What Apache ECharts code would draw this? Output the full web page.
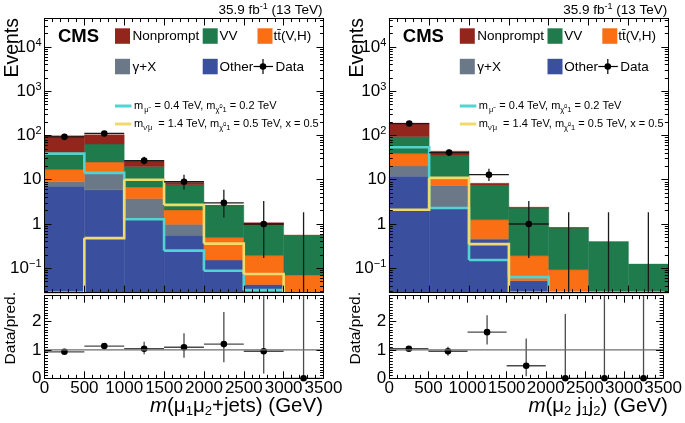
<!DOCTYPE html>
<html><head><meta charset="utf-8">
<script src="https://cdn.jsdelivr.net/npm/echarts@6/dist/echarts.min.js"></script>
<style>html,body{margin:0;padding:0;background:#fff}#c{width:685px;height:423px}</style>
</head><body><div id="c"></div>
<script>
// ---------------- data ----------------
const edges = [0, 500, 1000, 1500, 2000, 2500, 3000, 3500];
const yMajorTicks = [0.1, 1, 10, 100, 1000, 10000];
const ratioMajorTicks = [0, 1, 2];

// left panel: m(mu1 mu2 + jets)  (per-process contributions, stacked)
const otherL    = [7.1, 5.9, 1.28, 0.56, 0.153, 0.043, 0];
const gammaXL   = [1.9, 8.1, 2.5, 0.42, 0, 0, 0];
const ttVL      = [8.0, 11, 3.0, 1.1, 0.34, 0.15, 0.07];
const vvL       = [23, 39, 13.2, 5.6, 2.1, 0.73, 0.48];
const nonpromptL= [58, 40, 7, 1.0, 0.05, 0.15, 0.01];
const sigCyanL  = [39, 14.3, 1.28, 0.25, 0.088, 0.032, null];
const sigYellowL= [0.001, 0.48, 10, 2.7, 0.36, 0.074, null];
const dataL     = [93, 111, 27, 9, 3, 1, 0];
const dataLoL   = [84, 101, 22, 6.0, 1.4, 0.17, 0];
const dataHiL   = [103, 122, 33, 13, 5.9, 3.3, 1.84];
const ratioL    = [0.93, 1.13, 1.04, 1.09, 1.2, 0.95, 0];
const ratioLoL  = [0.88, 1.05, 0.84, 0.72, 0.56, 0.17, 0];
const ratioHiL  = [0.99, 1.22, 1.28, 1.58, 2.33, 3.3, 3.3];

// right panel: m(mu2 j1 j2)
const otherR    = [12, 2.3, 0.45, 0.052, 0, 0, 0];
const gammaXR   = [8.5, 5.1, 0.02, 0, 0, 0, 0];
const ttVR      = [18.5, 3.1, 0.78, 0.14, 0.093, 0, 0];
const vvR       = [56, 24.5, 6.15, 2.1, 0.72, 0.4, 0.124];
const nonpromptR= [95, 9, 0.9, 0.1, 0.02, 0, 0];
const sigCyanR  = [54, 2.3, 0.153, 0.063, null, null, null];
const sigYellowR= [2.1, 11, 0.35, 0.001, 0.001, 0.001, 0.001];
const dataR     = [186, 41, 13, 1, 0, 0, 0];
const dataLoR   = [172, 35, 9.4, 0.17, 0, 0, 0];
const dataHiR   = [200, 48, 17.8, 3.3, 1.84, 1.84, 1.84];
const ratioR    = [1.04, 0.95, 1.62, 0.44, 0, 0, 0];
const ratioLoR  = [0.98, 0.79, 1.19, 0.07, 0, 0, 0];
const ratioHiR  = [1.10, 1.11, 2.21, 1.4, 2.26, 3.3, 3.3];

// ---------------- style ----------------
const FONT = '"Liberation Sans", Arial, Helvetica, sans-serif';
const C = {np:'#93261c', vv:'#1f7a4c', ttv:'#fa6e14', gx:'#6a7888', other:'#3a4f9e', cyan:'#52d2d0', yellow:'#f0da6e'};
const Y_MIN = 0.028, Y_MAX = 44000, R_MAX = 2.9;
const GW = 279, TOP_T = 18.5, TOP_H = 274.2, RAT_T = 295.7, RAT_H = 82.6;

const yMinorTicks = [];
for (let e = -2; e <= 4; e++) for (let k = 2; k <= 9; k++) {
  const v = k * Math.pow(10, e);
  if (v > Y_MIN && v < Y_MAX) yMinorTicks.push(v);
}
const ratioMinorTicks = [];
for (let i = 1; i < 29; i++) if (i % 10) ratioMinorTicks.push(i / 10);

const panels = [
  {left:44.5, stack:[otherL, gammaXL, ttVL, vvL, nonpromptL], cyan:sigCyanL, yellow:sigYellowL,
   data:dataL, dlo:dataLoL, dhi:dataHiL, ratio:ratioL, rlo:ratioLoL, rhi:ratioHiL,
   title:'{i|m}{n|(μ}{s|1}{n|μ}{s|2}{n|+jets) (GeV)}'},
  {left:389.3, stack:[otherR, gammaXR, ttVR, vvR, nonpromptR], cyan:sigCyanR, yellow:sigYellowR,
   data:dataR, dlo:dataLoR, dhi:dataHiR, ratio:ratioR, rlo:ratioLoR, rhi:ratioHiR,
   title:'{i|m}{n|(μ}{s|2}{n| j}{s|1}{n|j}{s|2}{n|) (GeV)}'}
];
const stackColors = [C.other, C.gx, C.ttv, C.vv, C.np];

function rectOf(cs){ return {x:cs.x, y:cs.y, width:cs.width, height:cs.height}; }

function logLabel(v){
  const e = Math.round(Math.log10(v));
  if (e === 0) return '{n|1}';
  if (e === 1) return '{n|10}';
  return '{n|10}{s|' + (e < 0 ? '−' + (-e) : e) + '}';
}
const tickRich = {n:{fontFamily:FONT, fontSize:17, color:'#000', lineHeight:20},
                  s:{fontFamily:FONT, fontSize:11, color:'#000', lineHeight:11, verticalAlign:'top'}};

function xAx(grid, pos, labels){
  return {type:'value', gridIndex:grid, position:pos, min:0, max:3500, interval:500, z:10,
    axisLine:{show:true, onZero:false, lineStyle:{color:'#000', width:1}},
    axisTick:{show:true, inside:true, length:7, lineStyle:{color:'#000'}},
    minorTick:{show:true, splitNumber:5, length:3.5, lineStyle:{color:'#000'}},
    axisLabel:{show:labels, fontFamily:FONT, fontSize:17, color:'#000', margin:2, showMinLabel:true, showMaxLabel:true,
               formatter:(v) => String(v)},
    splitLine:{show:false}, minorSplitLine:{show:false}};
}
function yLog(grid, pos, major){
  return {type:'log', logBase:10, gridIndex:grid, position:pos, min:Y_MIN, max:Y_MAX, z:10,
    axisLine:{show:major, onZero:false, lineStyle:{color:'#000', width:1}},
    axisTick:{show:true, inside:true, length:major?7:3.5, customValues:major?yMajorTicks:yMinorTicks, lineStyle:{color:'#000'}},
    axisLabel:{show:major && pos==='left', customValues:yMajorTicks, formatter:logLabel, rich:tickRich, margin:3},
    splitLine:{show:false}};
}
function yRat(grid, pos, major){
  return {type:'value', gridIndex:grid, position:pos, min:0, max:R_MAX, z:10,
    axisLine:{show:major, onZero:false, lineStyle:{color:'#000', width:1}},
    axisTick:{show:true, inside:true, length:major?7:3.5, customValues:major?ratioMajorTicks:ratioMinorTicks, lineStyle:{color:'#000'}},
    axisLabel:{show:major && pos==='left', customValues:ratioMajorTicks, fontFamily:FONT, fontSize:17, color:'#000', margin:3},
    splitLine:{show:false}};
}

function histSeries(xi, yi, bottoms, tops, color){
  const data = [];
  for (let i = 0; i < tops.length; i++) {
    if (tops[i] > bottoms[i] && tops[i] > 0) data.push([edges[i], edges[i+1], Math.max(bottoms[i], Y_MIN*0.5), tops[i]]);
  }
  return {type:'custom', xAxisIndex:xi, yAxisIndex:yi, data, encode:{x:[0,1], y:[2,3]}, silent:true,
    renderItem(params, api){
      const p0 = api.coord([api.value(0), api.value(3)]);
      const p1 = api.coord([api.value(1), api.value(2)]);
      const r = echarts.graphic.clipRectByRect({x:p0[0], y:p0[1], width:p1[0]-p0[0], height:p1[1]-p0[1]}, rectOf(params.coordSys));
      return r ? {type:'rect', shape:r, style:{fill:color, stroke:color, lineWidth:0.4}} : null;
    }};
}
function stepSeries(xi, yi, vals, color){
  const data = [];
  for (let i = 0; i < vals.length; i++) {
    if (vals[i] == null) continue;
    let next = vals[i];
    if (i + 1 < vals.length) next = vals[i+1] == null ? Y_MIN*0.01 : vals[i+1];
    data.push([edges[i], edges[i+1], vals[i], next]);
  }
  return {type:'custom', xAxisIndex:xi, yAxisIndex:yi, data, encode:{x:[0,1], y:[2]}, silent:true,
    renderItem(params, api){
      const a = api.coord([api.value(0), api.value(2)]);
      const b = api.coord([api.value(1), api.value(2)]);
      const c = api.coord([api.value(1), api.value(3)]);
      const pts = echarts.graphic.clipPointsByRect([a, b, c], rectOf(params.coordSys));
      return {type:'polyline', shape:{points:pts}, style:{stroke:color, lineWidth:2.6, fill:null, lineJoin:'miter'}};
    }};
}
function dataSeries(xi, yi, vals, lo, hi, isLog, stroke){
  const data = vals.map((v, i) => [(edges[i]+edges[i+1])/2, v, lo[i], hi[i], edges[i], edges[i+1]]);
  return {type:'custom', xAxisIndex:xi, yAxisIndex:yi, data, encode:{x:0, y:3}, silent:true,
    renderItem(params, api){
      const rect = rectOf(params.coordSys);
      const xc = api.value(0), v = api.value(1), l = api.value(2), h = api.value(3);
      const lv = (isLog && !(l > 0)) ? Y_MIN*0.01 : l;
      const vp = echarts.graphic.clipPointsByRect([api.coord([xc, lv]), api.coord([xc, h])], rect);
      const children = [{type:'line', shape:{x1:vp[0][0], y1:vp[0][1], x2:vp[1][0], y2:vp[1][1]}, style:{stroke:stroke, lineWidth:1.3}}];
      if (!isLog || v > 0) {
        const a = api.coord([api.value(4), v]), b = api.coord([api.value(5), v]), p = api.coord([xc, v]);
        children.push({type:'line', shape:{x1:a[0], y1:a[1], x2:b[0], y2:b[1]}, style:{stroke:stroke, lineWidth:1.3}});
        children.push({type:'circle', shape:{cx:p[0], cy:p[1], r:3.3}, style:{fill:'#000'}});
      }
      return {type:'group', children};
    }};
}

const grid = [], xAxis = [], yAxis = [], series = [], graphic = [];
panels.forEach((P, p) => {
  grid.push({left:P.left, top:TOP_T, width:GW, height:TOP_H});
  grid.push({left:P.left, top:RAT_T, width:GW, height:RAT_H});
  const g0 = 2*p, g1 = 2*p+1;
  xAxis.push(xAx(g0, 'bottom', false), xAx(g0, 'top', false), xAx(g1, 'bottom', true), xAx(g1, 'top', false));
  yAxis.push(yLog(g0, 'left', true), yLog(g0, 'left', false), yLog(g0, 'right', true), yLog(g0, 'right', false),
             yRat(g1, 'left', true), yRat(g1, 'left', false), yRat(g1, 'right', true), yRat(g1, 'right', false));
  const xi = 4*p, yi = 8*p, xr = 4*p+2, yr = 8*p+4;
  let cum = new Array(7).fill(0);
  P.stack.forEach((arr, k) => {
    const bottoms = cum.slice();
    cum = cum.map((c, i) => c + arr[i]);
    series.push(histSeries(xi, yi, bottoms, cum, stackColors[k]));
  });
  series.push(stepSeries(xi, yi, P.cyan, C.cyan));
  series.push(stepSeries(xi, yi, P.yellow, C.yellow));
  series.push(dataSeries(xi, yi, P.data, P.dlo, P.dhi, true, '#1a1a1a'));
  series.push({type:'line', xAxisIndex:xr, yAxisIndex:yr, data:[[0,1],[3500,1]], symbol:'none', silent:true,
               lineStyle:{color:'#6e6e6e', width:1.3}});
  series.push(dataSeries(xr, yr, P.ratio, P.rlo, P.rhi, false, '#4a4a4a'));

  const dx = P.left - 44.5;
  const T = (x, y, text, size, extra) => graphic.push(Object.assign({type:'text', x:x+dx, y:y, z:100,
      style:Object.assign({text:text, fontFamily:FONT, fontSize:size, fill:'#000', verticalAlign:'middle'}, extra||{})}));
  const R = (x, y, w, h, fill) => graphic.push({type:'rect', x:x+dx, y:y, z:100, shape:{x:0, y:0, width:w, height:h}, style:{fill}});
  const L = (x1, y1, x2, y2, stroke, lw) => graphic.push({type:'line', z:100, shape:{x1:x1+dx, y1, x2:x2+dx, y2}, style:{stroke, lineWidth:lw}});

  graphic.push({type:'text', x:322.5+dx, y:10.5, z:100, style:{text:'{n|35.9 fb}{s|-1}{n| (13 TeV)}', align:'right', verticalAlign:'middle',
    rich:{n:{fontFamily:FONT, fontSize:13.5, fill:'#000', lineHeight:16}, s:{fontFamily:FONT, fontSize:9, fill:'#000', lineHeight:9, verticalAlign:'top'}}}});
  T(58, 37, 'CMS', 18.5, {fontWeight:'bold'});
  R(115, 28.3, 15, 15.5, C.np);   T(132.5, 36, 'Nonprompt', 13.5);
  R(202.7, 28.3, 15, 15.5, C.vv); T(219.5, 36, 'VV', 13.5);
  R(257.5, 28.3, 15, 15.5, C.ttv); T(273.5, 36, 'tt\u0304(V,H)', 13.5);
  R(115, 58.8, 15, 15.5, C.gx);   T(132.5, 67, 'γ+X', 13.5);
  R(202.7, 58.8, 15, 15.5, C.other); T(219.5, 67, 'Other', 13.5);
  L(253.5, 66.5, 273, 66.5, '#000', 1.2); L(263, 59, 263, 74, '#000', 1.2);
  graphic.push({type:'circle', z:101, shape:{cx:263+dx, cy:66.5, r:3.3}, style:{fill:'#000'}});
  T(275.5, 67, 'Data', 13.5);

  const sigRich = {n:{fontFamily:FONT, fontSize:11, fill:'#000', lineHeight:15},
                   b:{fontFamily:FONT, fontSize:7.5, fill:'#000', lineHeight:7, verticalAlign:'bottom'},
                   bp:{fontFamily:FONT, fontSize:7.5, fill:'#000', lineHeight:7, verticalAlign:'bottom', padding:[0,6,0,1]},
                   t:{fontFamily:FONT, fontSize:5.5, fill:'#000', lineHeight:6, verticalAlign:'middle'}};
  L(115, 106, 131.5, 106, C.cyan, 3);
  T(134, 106, '{n|m}{bp|μ\u0303}{n|= 0.4 TeV, m}{b|χ\u0303}{t|0}{b|1}{n| = 0.2 TeV}', 11, {rich:sigRich});
  L(115, 124, 131.5, 124, C.yellow, 3);
  T(134, 124, '{n|m}{b|ν\u0303}{bp|μ}{n|= 1.4 TeV, m}{b|χ\u0303}{t|0}{b|1}{n| = 0.5 TeV, x = 0.5}', 11, {rich:sigRich});

  graphic.push({type:'text', x:323+dx, y:406, z:100, style:{text:P.title, align:'right', verticalAlign:'middle',
    rich:{n:{fontFamily:FONT, fontSize:20.5, fill:'#000', lineHeight:24},
          i:{fontFamily:FONT, fontSize:20.5, fontStyle:'italic', fill:'#000', lineHeight:24},
          s:{fontFamily:FONT, fontSize:13, fill:'#000', lineHeight:13, verticalAlign:'bottom'}}}});
});
[3, 348].forEach(x => {
  graphic.push({type:'text', x:x, y:18, rotation:Math.PI/2, z:100,
    style:{text:'Events', fontFamily:FONT, fontSize:19.5, fill:'#000', align:'right', verticalAlign:'top'}});
  graphic.push({type:'text', x:x, y:292, rotation:Math.PI/2, z:100,
    style:{text:'Data/pred.', fontFamily:FONT, fontSize:15.5, fill:'#000', align:'right', verticalAlign:'top'}});
});

const chart = echarts.init(document.getElementById('c'), null, {renderer:'canvas'});
chart.setOption({animation:false, backgroundColor:'#fff', grid, xAxis, yAxis, series, graphic});
</script></body></html>
